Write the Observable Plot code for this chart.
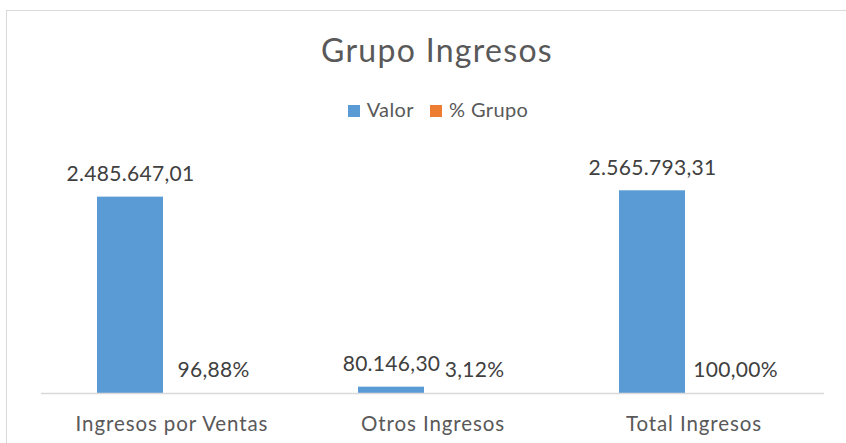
<!DOCTYPE html>
<html>
<head>
<meta charset="utf-8">
<script src="https://cdn.jsdelivr.net/npm/d3@7"></script>
<script src="https://cdn.jsdelivr.net/npm/@observablehq/plot@0.6"></script>
<style>
  html, body { margin: 0; padding: 0; background: #fff; }
  #wrap { position: relative; width: 846px; height: 443px; overflow: hidden; font-family: Lato, "Open Sans", sans-serif; }
  #frame { position: absolute; left: 6px; top: 10px; width: 860px; height: 460px; border-left: 1px solid #d9d9d9; border-top: 1px solid #d9d9d9; }
  #title { position: absolute; left: 0; width: 874px; top: 31px; line-height: 38px; text-align: center; font-size: 32px; color: #595959; letter-spacing: 1.3px; }
  #legend { position: absolute; left: 0; width: 876px; top: 97px; line-height: 24px; text-align: center; font-size: 20px; color: #595959; letter-spacing: 0.4px; }
  #legend span.item { margin: 0 8px; }
  #legend span.sw { display: inline-block; width: 12px; height: 12px; margin-right: 7px; vertical-align: 0px; }
  #chart { position: absolute; left: 0; top: 0; }
</style>
</head>
<body>
<div id="wrap">
  <div id="frame"></div>
  <div id="chart"></div>
  <div id="title">Grupo Ingresos</div>
  <div id="legend"></div>
</div>
<script>
const categories = ["Ingresos por Ventas", "Otros Ingresos", "Total Ingresos"];
const valor = [2485647.01, 80146.30, 2565793.31];
const pctGrupo = [96.88, 3.12, 100.00];
const series = ["Valor", "% Grupo"];
const colors = ["#5b9bd5", "#ed7d31"];

const numFmt = new Intl.NumberFormat("de-DE", {minimumFractionDigits: 2, maximumFractionDigits: 2});
const rows = [];
categories.forEach((c, i) => {
  rows.push({category: c, series: series[0], value: valor[i], label: numFmt.format(valor[i])});
  rows.push({category: c, series: series[1], value: pctGrupo[i], label: numFmt.format(pctGrupo[i]) + "%"});
});

// legend
const legend = document.getElementById("legend");
series.forEach((s, i) => {
  const item = document.createElement("span");
  item.className = "item";
  item.innerHTML = `<span class="sw" style="background:${colors[i]}"></span>${s}`;
  legend.appendChild(item);
});

const plot = Plot.plot({
  width: 846,
  height: 443,
  marginLeft: 40,
  marginRight: 21,
  marginTop: 156,
  marginBottom: 50,
  style: {fontFamily: "Lato, 'Open Sans', sans-serif", background: "transparent"},
  fx: {domain: categories, padding: 0, label: null, axis: "bottom", tickSize: 0, tickPadding: 23, fontSize: 20.5},
  x: {domain: series, paddingInner: 0.2, paddingOuter: 0.66, axis: null},
  y: {domain: [0, 3000000], axis: null},
  color: {domain: series, range: colors},
  marks: [
    Plot.barY(rows, {fx: "category", x: "series", y: "value", fill: "series"}),
    Plot.text(rows, {fx: "category", x: "series", y: "value", text: "label", dy: -23, fontSize: 21, fill: "#404040"}),
    Plot.ruleY([0], {stroke: "#d9d9d9", strokeWidth: 1.5})
  ]
});
const fxAxis = plot.querySelector('[aria-label="fx-axis tick label"]');
if (fxAxis) {
  fxAxis.setAttribute("fill", "#595959");
  fxAxis.setAttribute("font-size", "20.5");
  fxAxis.setAttribute("letter-spacing", "0.9");
}
plot.querySelectorAll('[aria-label="text"]').forEach(g => g.setAttribute("letter-spacing", "0.3"));
document.getElementById("chart").appendChild(plot);
</script>
</body>
</html>
